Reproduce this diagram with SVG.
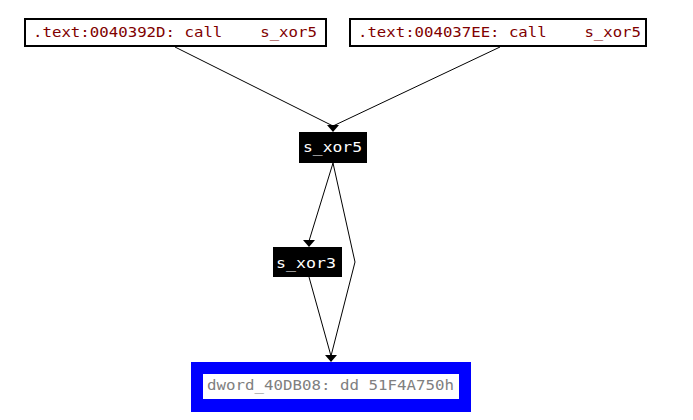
<svg xmlns="http://www.w3.org/2000/svg" width="693" height="420" viewBox="0 0 693 420">
<style>
.t{font-family:"DejaVu Sans Mono","Liberation Mono",monospace;font-size:14px}
.red{fill:#800000}
.wh{fill:#ffffff}
.gr{fill:#808080}
.e{fill:none;stroke:#000;stroke-width:1}
.ah{fill:#000}
</style>
<rect width="693" height="420" fill="#fff"/>
<g id="connectors">
<path class="e" d="M175,47 L333,126"/>
<path class="e" d="M500,47 L333,126"/>
<path class="e" d="M333,163 L309,241"/>
<path class="e" d="M333,163 L355,262 L331,356"/>
<path class="e" d="M309,277 L331,356"/>
<polygon class="ah" points="327,125 339,125 333,132"/>
<polygon class="ah" points="303,240 315,240 309,247"/>
<polygon class="ah" points="325,355 337,355 331,362"/>
</g>
<g id="node1">
<rect x="25" y="19" width="301" height="27" fill="#fff" stroke="#000" stroke-width="2"/>
<text class="t red" x="33" y="37" textLength="284" lengthAdjust="spacingAndGlyphs" xml:space="preserve">.text:0040392D: call    s_xor5</text>
</g>
<g id="node2">
<rect x="350" y="19" width="296" height="27" fill="#fff" stroke="#000" stroke-width="2"/>
<text class="t red" x="358" y="37" textLength="283" lengthAdjust="spacingAndGlyphs" xml:space="preserve">.text:004037EE: call    s_xor5</text>
</g>
<g id="s_xor5">
<rect x="299" y="132" width="68" height="31" fill="#000"/>
<text class="t wh" x="303" y="152" textLength="59" lengthAdjust="spacingAndGlyphs">s_xor5</text>
</g>
<g id="s_xor3">
<rect x="273" y="247" width="69" height="30" fill="#000"/>
<text class="t wh" x="276" y="268" textLength="60" lengthAdjust="spacingAndGlyphs">s_xor3</text>
</g>
<g id="dword">
<rect x="191" y="362" width="280" height="50" fill="#0000ff"/>
<rect x="203" y="374" width="256" height="25" fill="#fff"/>
<text class="t gr" x="207" y="390" textLength="247" lengthAdjust="spacingAndGlyphs">dword_40DB08: dd 51F4A750h</text>
</g>
</svg>
